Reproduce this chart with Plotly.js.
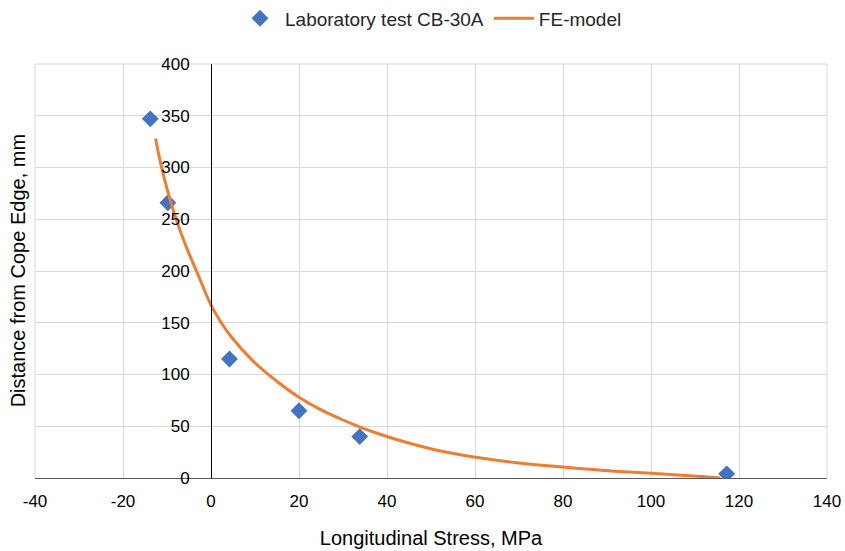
<!DOCTYPE html>
<html>
<head>
<meta charset="utf-8">
<script src="https://cdn.plot.ly/plotly-3.0.1.min.js"></script>
<style>html,body{margin:0;padding:0;background:#fff;}#chart{width:845px;height:551px;}</style>
</head>
<body>
<div id="chart"></div>
<script>
// Laboratory test CB-30A
const labStress = [-13.8, -9.8, 4.2, 20.0, 33.8, 117.2];
const labDistance = [347, 266, 115, 65, 40, 4];

// FE-model
const feStress = [-12.6, -11.8, -10.7, -9.5, -7.6, -5.4, -3.1, 0.0, 2.2, 4.5, 9.8, 15.1, 20.0, 24.9, 29.5, 34.0, 38.6, 43.1, 52.2, 60.2, 68.9, 80.0, 91.6, 99.2, 110.5, 115.8];
const feDistance = [328, 311, 291, 272, 246, 221, 198, 167, 151, 137, 112, 93, 78, 66, 57, 49, 42, 36, 26, 20, 15, 10.6, 6.6, 4.8, 1.8, 0];

const xTicks = [-40, -20, 0, 20, 40, 60, 80, 100, 120, 140];
const yTicks = [0, 50, 100, 150, 200, 250, 300, 350, 400];

const FONT = 'Liberation Sans, Arial, sans-serif';

const traces = [
  {
    x: labStress, y: labDistance, type: 'scatter', mode: 'markers',
    name: 'Laboratory test CB-30A',
    marker: {symbol: 'diamond', size: 13, color: '#4472C4'}
  },
  {
    x: feStress, y: feDistance, type: 'scatter', mode: 'lines',
    name: 'FE-model',
    line: {color: '#ED7D31', width: 3, shape: 'spline', smoothing: 1}
  }
];

const grid = '#d9d9d9';
const layout = {
  width: 845, height: 551,
  margin: {l: 35, r: 18, t: 64, b: 73, autoexpand: false},
  paper_bgcolor: '#ffffff', plot_bgcolor: '#ffffff',
  font: {family: FONT, size: 17, color: '#000000'},
  showlegend: true,
  legend: {
    orientation: 'h', x: 0.5, xanchor: 'center', y: 1.11, yanchor: 'middle',
    font: {family: FONT, size: 19, color: '#262626'},
    itemwidth: 40
  },
  xaxis: {
    range: [-40, 140], tickvals: xTicks, ticktext: xTicks.map(String),
    showgrid: true, gridcolor: grid, gridwidth: 1,
    zeroline: false, showline: true, linecolor: '#595959', linewidth: 1,
    ticks: '', tickfont: {family: FONT, size: 17, color: '#000'},
    ticklabelstandoff: 8,
    title: {text: 'Longitudinal Stress, MPa', font: {family: FONT, size: 20, color: '#000'}, standoff: 20},
    fixedrange: true
  },
  yaxis: {
    range: [0, 400], tickvals: yTicks, ticktext: yTicks.map(String),
    anchor: 'free', position: 40 / 180,
    showgrid: true, gridcolor: grid, gridwidth: 1,
    zeroline: false, showline: true, linecolor: '#000000', linewidth: 1,
    ticks: '', tickfont: {family: FONT, size: 17, color: '#000'},
    ticklabelstandoff: 18,
    fixedrange: true
  },
  shapes: [
    {type: 'line', xref: 'paper', yref: 'paper', x0: 0, x1: 0, y0: 0, y1: 1, line: {color: grid, width: 1}, layer: 'below'},
    {type: 'line', xref: 'paper', yref: 'paper', x0: 1, x1: 1, y0: 0, y1: 1, line: {color: grid, width: 1}, layer: 'below'},
    {type: 'line', xref: 'paper', yref: 'paper', x0: 0, x1: 1, y0: 1, y1: 1, line: {color: grid, width: 1}, layer: 'below'}
  ],
  annotations: [
    {
      text: 'Distance from Cope Edge, mm', xref: 'paper', yref: 'paper',
      x: -0.021, y: 0.5, xanchor: 'center', yanchor: 'middle', textangle: -90,
      showarrow: false, font: {family: FONT, size: 20, color: '#000'}
    }
  ]
};

Plotly.newPlot('chart', traces, layout, {displayModeBar: false, staticPlot: true});
</script>
</body>
</html>
